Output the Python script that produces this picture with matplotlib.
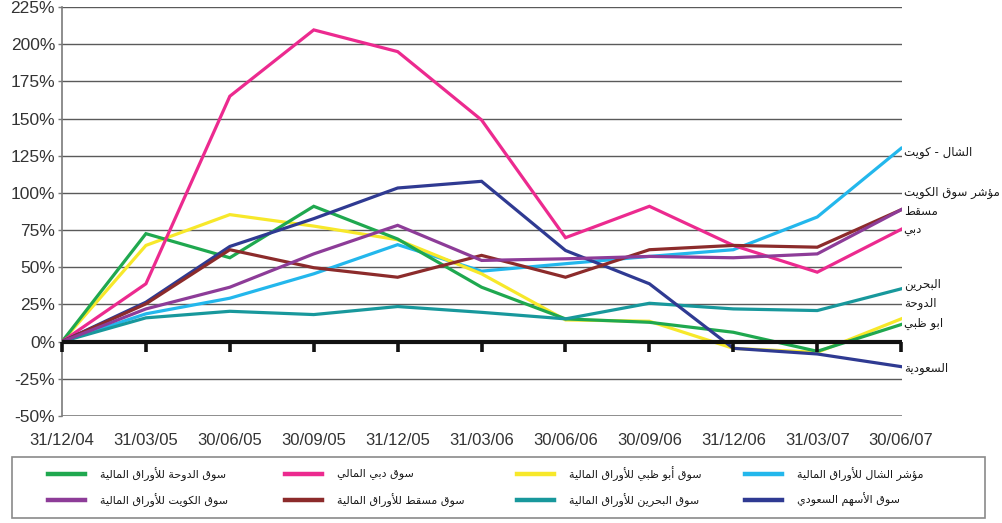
import matplotlib
matplotlib.use("Agg")
import matplotlib.pyplot as plt
from matplotlib.lines import Line2D
from matplotlib.patches import Rectangle
import matplotlib.transforms as mtransforms

# ---------------- data ----------------
dates = ["31/12/04", "31/03/05", "30/06/05", "30/09/05", "31/12/05", "31/03/06",
         "30/06/06", "30/09/06", "31/12/06", "31/03/07", "30/06/07"]

doha      = [0, 72.6, 56.4, 91.0, 69.0, 36.6, 15.3, 13.0, 6.3, -6.5, 11.5]
dubai     = [0, 38.9, 165.0, 209.6, 195.0, 149.0, 69.9, 91.0, 64.7, 46.7, 75.5]
abudhabi  = [0, 64.7, 85.4, 77.7, 68.5, 45.6, 14.6, 13.7, -4.5, -7.2, 15.3]
shamal    = [0, 18.7, 29.2, 45.6, 65.2, 47.4, 52.4, 57.3, 61.8, 83.8, 130.0]
kuwait    = [0, 22.0, 36.6, 59.0, 78.2, 54.6, 55.7, 57.3, 56.4, 59.0, 88.7]
muscat    = [0, 25.4, 61.8, 49.7, 43.3, 58.0, 43.3, 61.8, 64.7, 63.5, 88.7]
bahrain   = [0, 16.0, 20.4, 18.2, 23.6, 19.7, 15.3, 25.8, 22.0, 20.9, 35.5]
saudi     = [0, 26.5, 64.0, 82.7, 103.3, 107.8, 61.3, 38.9, -4.5, -8.3, -16.8]

legend_names = {
    "doha": "سوق الدوحة للأوراق المالية",
    "dubai": "سوق دبي المالي",
    "abudhabi": "سوق أبو ظبي للأوراق المالية",
    "shamal": "مؤشر الشال للأوراق المالية",
    "kuwait": "سوق الكويت للأوراق المالية",
    "muscat": "سوق مسقط للأوراق المالية",
    "bahrain": "سوق البحرين للأوراق المالية",
    "saudi": "سوق الأسهم السعودي",
}

end_labels = ["الشال - كويت", "مؤشر سوق الكويت", "مسقط", "دبي",
              "البحرين", "الدوحة", "ابو ظبي", "السعودية"]
end_label_y = [127.0, 100.6, 87.8, 75.5, 38.4, 25.4, 11.9, -18.2]

yticks = [-50, -25, 0, 25, 50, 75, 100, 125, 150, 175, 200, 225]

colors = {
    "doha": "#1fa84f", "dubai": "#ec2a8f", "abudhabi": "#f7e82a", "shamal": "#23b7ec",
    "kuwait": "#8d3c98", "muscat": "#8c2b2b", "bahrain": "#18989c", "saudi": "#2f3a92",
}
series = {"shamal": shamal, "abudhabi": abudhabi, "doha": doha, "bahrain": bahrain,
          "dubai": dubai, "saudi": saudi, "muscat": muscat, "kuwait": kuwait}

# ---------------- Arabic shaping (presentation forms + visual order) ----------------
FORMS = {
    '\u0627': ('\uFE8D', '\uFE8E', None, None),
    '\u0623': ('\uFE83', '\uFE84', None, None),
    '\u0624': ('\uFE85', '\uFE86', None, None),
    '\u0628': ('\uFE8F', '\uFE90', '\uFE91', '\uFE92'),
    '\u0629': ('\uFE93', '\uFE94', None, None),
    '\u062A': ('\uFE95', '\uFE96', '\uFE97', '\uFE98'),
    '\u062D': ('\uFEA1', '\uFEA2', '\uFEA3', '\uFEA4'),
    '\u062F': ('\uFEA9', '\uFEAA', None, None),
    '\u0631': ('\uFEAD', '\uFEAE', None, None),
    '\u0633': ('\uFEB1', '\uFEB2', '\uFEB3', '\uFEB4'),
    '\u0634': ('\uFEB5', '\uFEB6', '\uFEB7', '\uFEB8'),
    '\u0637': ('\uFEC1', '\uFEC2', '\uFEC3', '\uFEC4'),
    '\u0638': ('\uFEC5', '\uFEC6', '\uFEC7', '\uFEC8'),
    '\u0639': ('\uFEC9', '\uFECA', '\uFECB', '\uFECC'),
    '\u0642': ('\uFED5', '\uFED6', '\uFED7', '\uFED8'),
    '\u0643': ('\uFED9', '\uFEDA', '\uFEDB', '\uFEDC'),
    '\u0644': ('\uFEDD', '\uFEDE', '\uFEDF', '\uFEE0'),
    '\u0645': ('\uFEE1', '\uFEE2', '\uFEE3', '\uFEE4'),
    '\u0646': ('\uFEE5', '\uFEE6', '\uFEE7', '\uFEE8'),
    '\u0647': ('\uFEE9', '\uFEEA', '\uFEEB', '\uFEEC'),
    '\u0648': ('\uFEED', '\uFEEE', None, None),
    '\u064A': ('\uFEF1', '\uFEF2', '\uFEF3', '\uFEF4'),
}
LAMALEF = {'\u0627': ('\uFEFB', '\uFEFC', None, None),
           '\u0623': ('\uFEF7', '\uFEF8', None, None)}


def shape(s):
    units = []
    i = 0
    while i < len(s):
        c = s[i]
        if c == '\u0644' and i + 1 < len(s) and s[i + 1] in LAMALEF:
            units.append((LAMALEF[s[i + 1]], None))
            i += 2
            continue
        units.append((FORMS.get(c), c))
        i += 1
    out = []
    for k, (f, c) in enumerate(units):
        if f is None:
            out.append(c)
            continue
        prev = units[k - 1][0] if k > 0 else None
        nxt = units[k + 1][0] if k + 1 < len(units) else None
        jp = prev is not None and prev[2] is not None
        jn = f[2] is not None and nxt is not None
        if jp and jn:
            out.append(f[3])
        elif jp:
            out.append(f[1])
        elif jn:
            out.append(f[2])
        else:
            out.append(f[0])
    return ''.join(reversed(out))


# ---------------- figure ----------------
W, H = 1003, 523
fig = plt.figure(figsize=(W / 100, H / 100), dpi=100)
ax_left, ax_right, ax_top, ax_bot = 62, 902, 7, 416
ax = fig.add_axes([ax_left / W, 1 - ax_bot / H, (ax_right - ax_left) / W, (ax_bot - ax_top) / H])

x = list(range(len(dates)))
for key, vals in series.items():
    ax.plot(x, vals, color=colors[key], lw=2.3, solid_joinstyle="miter", zorder=3)

ax.set_xlim(0, 10.01)
ax.set_ylim(-50, 225)
ax.set_yticks(yticks)
ax.set_yticklabels([f"{v}%" for v in yticks])
for v in yticks:
    if v not in (0, -50):
        ax.axhline(v, color="#5a5a5a", lw=1.0, zorder=1)
ax.axhline(0, color="#111111", lw=3.0, zorder=4)

num_font = ["Liberation Sans Narrow", "Liberation Sans", "DejaVu Sans"]
ax.spines["top"].set_visible(False)
ax.spines["right"].set_visible(False)
ax.spines["left"].set_color("#7a7a7a")
ax.spines["left"].set_linewidth(1.2)
ax.spines["bottom"].set_visible(False)
ax.tick_params(axis="y", direction="out", length=3, width=1.0, color="#7a7a7a",
               labelsize=12.5, labelcolor="#333333", pad=2)
for t in ax.get_yticklabels():
    t.set_family(num_font)

# bottom -50 line
ax.axhline(-50, color="#7a7a7a", lw=1.2, zorder=1)

# x ticks hang below the 0% line, labels at bottom
ax.set_xticks(x)
ax.set_xticklabels(dates)
ax.tick_params(axis="x", direction="out", length=0, labelsize=12, labelcolor="#333333", pad=12)
for t in ax.get_xticklabels():
    t.set_family(num_font)
ax.plot(x, [0] * len(x), linestyle="none", marker=3, markersize=7, markeredgewidth=2.6,
        color="#111111", zorder=4, clip_on=False)

# end labels
arab_font = ["DejaVu Sans"]
trans = mtransforms.blended_transform_factory(ax.transAxes, ax.transData)
for lab, yv in zip(end_labels, end_label_y):
    ax.text(1.002, yv, shape(lab), transform=trans, ha="left", va="center",
            fontsize=8.5, color="#1a1a1a", family=arab_font, clip_on=False)

# legend (manual)
fig.add_artist(Rectangle((12 / W, 1 - 518 / H), 973 / W, 61 / H, transform=fig.transFigure,
                         fill=False, edgecolor="#8a8a8a", lw=1.2))
leg_rows = [["doha", "dubai", "abudhabi", "shamal"],
            ["kuwait", "muscat", "bahrain", "saudi"]]
col_x = [48, 285, 517, 745]
row_y = [474, 500]
for r, row in enumerate(leg_rows):
    for c, key in enumerate(row):
        yy = 1 - row_y[r] / H
        x0 = col_x[c] / W
        fig.add_artist(Line2D([x0, x0 + 37 / W], [yy, yy], transform=fig.transFigure,
                              color=colors[key], lw=3.2))
        fig.text(x0 + 52 / W, yy, shape(legend_names[key]), ha="left", va="center",
                 fontsize=8, color="#1a1a1a", family=arab_font)

fig.savefig("out.png", dpi=100)
